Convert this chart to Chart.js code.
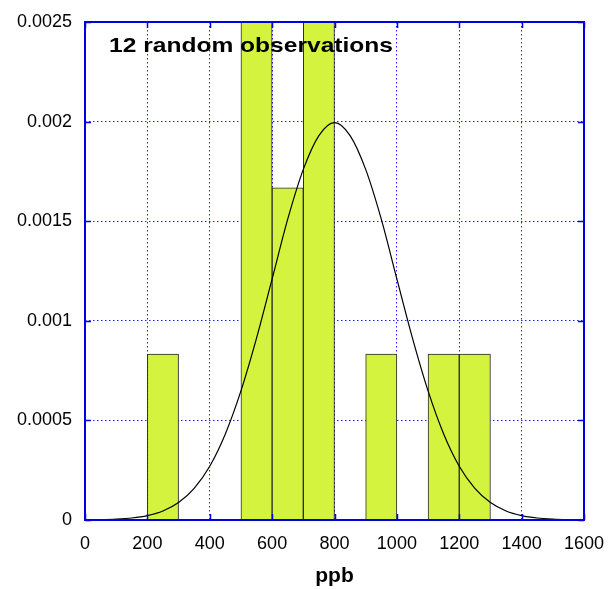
<!DOCTYPE html>
<html>
<head>
<meta charset="utf-8">
<script src="https://cdn.jsdelivr.net/npm/chart.js@4.4.1/dist/chart.umd.min.js"></script>
<style>
  html, body { margin: 0; padding: 0; background: #ffffff; }
  #wrap { position: relative; width: 608px; height: 589px; }
</style>
</head>
<body>
<div id="wrap"><canvas id="c" width="608" height="589"></canvas></div>
<script>
// ---- data ----
const chartTitle = "12 random observations";
const xAxisLabel = "ppb";
// histogram bins (ppb), bin width 100
const binStart = [200, 500, 600, 700, 900, 1100, 1200];
const binEnd   = [300, 600, 700, 800, 1000, 1200, 1300];
const binDensity = [0.000833, 0.0025, 0.001667, 0.0025, 0.000833, 0.000833, 0.000833];
// smooth curve
const curveX = [0, 50, 100, 150, 200, 250, 300, 350, 400, 450, 500, 550, 600, 650, 700, 750, 800,
                850, 900, 950, 1000, 1050, 1100, 1150, 1200, 1250, 1300, 1350, 1400, 1450, 1500, 1550, 1600];
const curveY = [0.0000007, 0.0000018, 0.0000044, 0.0000101, 0.0000222, 0.0000455, 0.0000876, 0.000159,
                0.00027, 0.000432, 0.000648, 0.000913, 0.00121, 0.00151, 0.00176, 0.00193, 0.001995,
                0.00193, 0.00176, 0.00151, 0.00121, 0.000913, 0.000648, 0.000432, 0.00027, 0.000159,
                0.0000876, 0.0000455, 0.0000222, 0.0000101, 0.0000044, 0.0000018, 0.0000007];
const xTicks = [0, 200, 400, 600, 800, 1000, 1200, 1400, 1600];
const yTicks = [0, 0.0005, 0.001, 0.0015, 0.002, 0.0025];

const BLUE = '#0000e0';
const FONT = "'Liberation Sans', Arial, Helvetica, sans-serif";

const barData = binStart.map((s, i) => ({ x: (s + binEnd[i]) / 2, y: binDensity[i] }));
const lineData = curveX.map((x, i) => ({ x: x, y: curveY[i] }));

const framePlugin = {
  id: 'frame',
  afterDatasetsDraw(chart) {
    const { ctx, chartArea: a, scales } = chart;
    ctx.save();
    ctx.strokeStyle = BLUE;
    ctx.lineWidth = 1.5;
    const tl = 6;
    ctx.beginPath();
    xTicks.forEach(v => {
      const px = Math.round(scales.x.getPixelForValue(v)) + 0.5;
      ctx.moveTo(px, a.bottom); ctx.lineTo(px, a.bottom - tl);
      ctx.moveTo(px, a.top); ctx.lineTo(px, a.top + tl);
    });
    yTicks.forEach(v => {
      const py = Math.round(scales.y.getPixelForValue(v)) + 0.5;
      ctx.moveTo(a.left, py); ctx.lineTo(a.left + tl, py);
      ctx.moveTo(a.right, py); ctx.lineTo(a.right - tl, py);
    });
    ctx.stroke();
    ctx.lineWidth = 2;
    ctx.strokeRect(a.left, a.top, a.right - a.left, a.bottom - a.top);
    // title inside the plot
    ctx.fillStyle = '#000';
    ctx.font = "bold 21px " + FONT;
    ctx.textBaseline = 'alphabetic';
    ctx.textAlign = 'left';
    const w = ctx.measureText(chartTitle).width;
    const sx = 284 / w;
    ctx.translate(109, 52);
    ctx.scale(sx, 1);
    ctx.fillText(chartTitle, 0, 0);
    ctx.restore();
  }
};

new Chart(document.getElementById('c'), {
  data: {
    datasets: [
      {
        type: 'line',
        data: lineData,
        borderColor: '#000',
        borderWidth: 1.2,
        pointRadius: 0,
        fill: false,
        cubicInterpolationMode: 'monotone',
        order: 0
      },
      {
        type: 'bar',
        data: barData,
        backgroundColor: '#d4f33f',
        borderColor: '#2a2a2a',
        borderWidth: 1,
        barPercentage: 1,
        categoryPercentage: 1,
        grouped: false,
        order: 1
      }
    ]
  },
  options: {
    responsive: false,
    animation: false,
    devicePixelRatio: 1,
    layout: { padding: { top: 22, right: 24, left: 0, bottom: 0 } },
    plugins: { legend: { display: false }, tooltip: { enabled: false }, title: { display: false } },
    scales: {
      x: {
        type: 'linear',
        offset: false,
        min: 0, max: 1600,
        afterBuildTicks: s => { s.ticks = xTicks.map(v => ({ value: v })); },
        afterFit: s => { s.height = 69; s.paddingLeft = 0; s.paddingRight = 0; },
        grid: { color: '#1f1fff', lineWidth: 1, drawTicks: false, offset: false },
        border: { display: false, dash: [1.5, 2.5] },
        ticks: { color: '#000', font: { family: FONT, size: 18 }, padding: 13, maxRotation: 0, autoSkip: false,
                 callback: v => String(v) },
        title: { display: true, text: xAxisLabel, color: '#000', font: { family: FONT, size: 21, weight: 'bold' }, padding: { top: 0, bottom: 0 } }
      },
      y: {
        min: 0, max: 0.0025,
        afterBuildTicks: s => { s.ticks = yTicks.map(v => ({ value: v })); },
        afterFit: s => { s.width = 85; s.paddingTop = 0; s.paddingBottom = 0; },
        grid: { color: '#1f1fff', lineWidth: 1, drawTicks: false },
        border: { display: false, dash: [1.5, 2.5] },
        ticks: { color: '#000', font: { family: FONT, size: 18 }, padding: 13, autoSkip: false,
                 callback: v => String(v) }
      }
    }
  },
  plugins: [framePlugin]
});
</script>
</body>
</html>
